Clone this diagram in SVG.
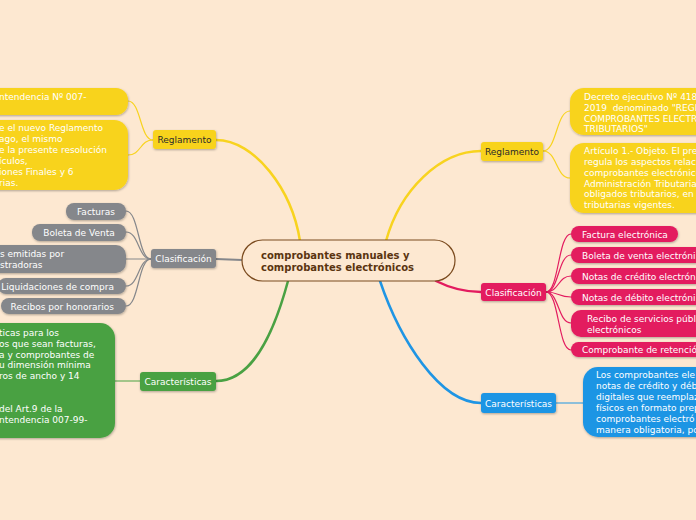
<svg xmlns="http://www.w3.org/2000/svg" width="696" height="520" viewBox="0 0 696 520">
<defs>
<filter id="sh" x="-10%" y="-10%" width="130%" height="140%"><feDropShadow dx="0.5" dy="1" stdDeviation="0.8" flood-color="#000" flood-opacity="0.3"/></filter>
<style>
text{font-family:"DejaVu Sans","Verdana",sans-serif;font-size:9px}
.w{fill:#ffffff}
.d{fill:#2b2b2b}
.y{fill:#f8d31f;filter:url(#sh)}
.g{fill:#85878b;filter:url(#sh)}
.gr{fill:#4aa143;filter:url(#sh)}
.p{fill:#e31b5f;filter:url(#sh)}
.b{fill:#1f95e4;filter:url(#sh)}
.c{fill:none;stroke-linecap:round}
</style>
</defs>
<rect width="696" height="520" fill="#fde8d1"/>
<g id="connectors" class="c">
<path d="M300,241 C292,190 255,140 216,140" stroke="#f8d31f" stroke-width="2.5"/>
<path d="M386,241 C400,190 440,151 481,151" stroke="#f8d31f" stroke-width="2.5"/>
<path d="M288,281 C272,340 250,381 216,381" stroke="#4aa143" stroke-width="2.5"/>
<path d="M380,281 C400,340 440,403 481,403" stroke="#1f95e4" stroke-width="2.5"/>
<path d="M436,281 C452,289 465,292 481,292" stroke="#e31b5f" stroke-width="2.5"/>
<path d="M242,260 L216,259" stroke="#85878b" stroke-width="2"/>
<g stroke="#f8d31f" stroke-width="1.2">
<path d="M153,140 C140,140 141,101 128,101"/>
<path d="M153,140 C140,140 141,155 128,155"/>
<path d="M543,151 C557,151 556,111 570,111"/>
<path d="M543,151 C557,151 556,178 570,178"/>
</g>
<g stroke="#85878b" stroke-width="1.2">
<path d="M151,259 C138,259 139,211 126,211"/>
<path d="M151,259 C138,259 139,232 126,232"/>
<path d="M151,259 L126,259"/>
<path d="M151,259 C138,259 139,286 126,286"/>
<path d="M151,259 C138,259 139,306 126,306"/>
</g>
<g stroke="#e31b5f" stroke-width="1.2">
<path d="M546,292 C559,292 558,234 571,234"/>
<path d="M546,292 C559,292 558,255 571,255"/>
<path d="M546,292 C559,292 558,276 571,276"/>
<path d="M546,292 C559,292 558,297 571,297"/>
<path d="M546,292 C559,292 558,323 571,323"/>
<path d="M546,292 C559,292 558,350 571,350"/>
</g>
<path d="M140,381 L115,381" stroke="#4aa143" stroke-width="1.2"/>
<path d="M556,403 L583,403" stroke="#1f95e4" stroke-width="1.2"/>
</g>
<g id="center">
<rect x="242" y="240" width="213" height="41" rx="20.5" fill="#fde8d1" stroke="#7a4a1e" stroke-width="1.2"/>
<text x="261" y="259" style="font-size:10px;font-weight:bold;fill:#5a3410">comprobantes manuales y</text>
<text x="261" y="271" style="font-size:10px;font-weight:bold;fill:#5a3410">comprobantes electrónicos</text>
</g>
<g id="l-reglamento">
<rect class="y" x="153" y="130" width="63" height="19" rx="3"/>
<text class="d" x="184.5" y="143" text-anchor="middle">Reglamento</text>
</g>
<g id="l-reg-1">
<rect class="y" x="-20" y="88" width="148" height="27" rx="12"/>
<text class="w" x="-1" y="100">ntendencia Nº 007-</text>
</g>
<g id="l-reg-2">
<rect class="y" x="-20" y="120" width="148" height="70" rx="14"/>
<g class="w">
<text x="-1" y="131">e el nuevo Reglamento</text>
<text x="-1" y="142">ago, el mismo</text>
<text x="-1" y="153">e la presente resolución</text>
<text x="-1" y="164">ículos,</text>
<text x="-1" y="175">iones Finales y 6</text>
<text x="-1" y="186">rias.</text>
</g>
</g>
<g id="l-clasificacion">
<rect class="g" x="151" y="249" width="65" height="19" rx="3"/>
<text class="w" x="183.5" y="262" text-anchor="middle">Clasificación</text>
</g>
<g id="l-facturas"><rect class="g" x="66" y="203" width="60" height="17" rx="8"/><text class="w" x="96" y="215" text-anchor="middle">Facturas</text></g>
<g id="l-boleta"><rect class="g" x="32" y="224" width="94" height="17" rx="8"/><text class="w" x="79" y="236" text-anchor="middle">Boleta de Venta</text></g>
<g id="l-emitidas"><rect class="g" x="-20" y="245" width="146" height="28" rx="10"/><text class="w" x="0" y="257">s emitidas por</text><text class="w" x="0" y="268">stradoras</text></g>
<g id="l-liquidaciones"><rect class="g" x="-2" y="278" width="128" height="16" rx="8"/><text class="w" x="114" y="289.5" text-anchor="end">Liquidaciones de compra</text></g>
<g id="l-recibos"><rect class="g" x="1" y="298" width="125" height="16" rx="8"/><text class="w" x="114" y="309.5" text-anchor="end">Recibos por honorarios</text></g>
<g id="l-caracteristicas">
<rect class="gr" x="140" y="372" width="76" height="19" rx="3"/>
<text class="w" x="178" y="385" text-anchor="middle">Características</text>
</g>
<g id="l-car-1">
<rect class="gr" x="-20" y="323" width="135" height="115" rx="15"/>
<g class="w">
<text x="-1" y="336">ticas para los</text>
<text x="-1" y="347">os que sean facturas,</text>
<text x="-1" y="357.5">a y comprobantes de</text>
<text x="-1" y="368">u dimensión mínima</text>
<text x="-1" y="379">ros de ancho y 14</text>
<text x="-1" y="412">del Art.9 de la</text>
<text x="-1" y="423">ntendencia 007-99-</text>
</g>
</g>
<g id="r-reglamento">
<rect class="y" x="481" y="142" width="62" height="19" rx="3"/>
<text class="d" x="512" y="155" text-anchor="middle">Reglamento</text>
</g>
<g id="r-reg-1">
<rect class="y" x="570" y="88" width="146" height="47" rx="14"/>
<g class="w">
<text x="584" y="100">Decreto ejecutivo Nº 418</text>
<text x="584" y="110.5" xml:space="preserve">2019  denominado "REGL</text>
<text x="584" y="121.5">COMPROBANTES ELECTR</text>
<text x="584" y="132">TRIBUTARIOS"</text>
</g>
</g>
<g id="r-reg-2">
<rect class="y" x="570" y="143" width="146" height="70" rx="14"/>
<g class="w">
<text x="584" y="154">Artículo 1.- Objeto. El pre</text>
<text x="584" y="165">regula los aspectos relac</text>
<text x="584" y="175.5">comprobantes electrónico</text>
<text x="584" y="186.5">Administración Tributaria</text>
<text x="584" y="197">obligados tributarios, en</text>
<text x="584" y="208">tributarias vigentes.</text>
</g>
</g>
<g id="r-clasificacion">
<rect class="p" x="481" y="283" width="65" height="18" rx="3"/>
<text class="w" x="513.5" y="295.5" text-anchor="middle">Clasificación</text>
</g>
<g id="r-factura"><rect class="p" x="571" y="226" width="107" height="16" rx="8"/><text class="w" x="582" y="237.5">Factura electrónica</text></g>
<g id="r-boleta"><rect class="p" x="571" y="247" width="140" height="16" rx="8"/><text class="w" x="582" y="258.5">Boleta de venta electróni</text></g>
<g id="r-credito"><rect class="p" x="571" y="268" width="140" height="16" rx="8"/><text class="w" x="582" y="279.5">Notas de crédito electrón</text></g>
<g id="r-debito"><rect class="p" x="571" y="289" width="140" height="16" rx="8"/><text class="w" x="582" y="300.5">Notas de débito electróni</text></g>
<g id="r-recibo"><rect class="p" x="571" y="310" width="140" height="27" rx="10"/><text class="w" x="587" y="322">Recibo de servicios públ</text><text class="w" x="587" y="333">electrónicos</text></g>
<g id="r-retencion"><rect class="p" x="571" y="342" width="140" height="15" rx="7.5"/><text class="w" x="582" y="353">Comprobante de retenció</text></g>
<g id="r-caracteristicas">
<rect class="b" x="481" y="393" width="75" height="20" rx="3"/>
<text class="w" x="518.5" y="406.5" text-anchor="middle">Características</text>
</g>
<g id="r-car-1">
<rect class="b" x="583" y="367" width="133" height="70" rx="15"/>
<g class="w">
<text x="596" y="378">Los comprobantes ele</text>
<text x="596" y="389">notas de crédito y déb</text>
<text x="596" y="400">digitales que reemplaz</text>
<text x="596" y="411">físicos en formato prep</text>
<text x="596" y="422">comprobantes electró</text>
<text x="596" y="433">manera obligatoria, po</text>
</g>
</g>
</svg>
